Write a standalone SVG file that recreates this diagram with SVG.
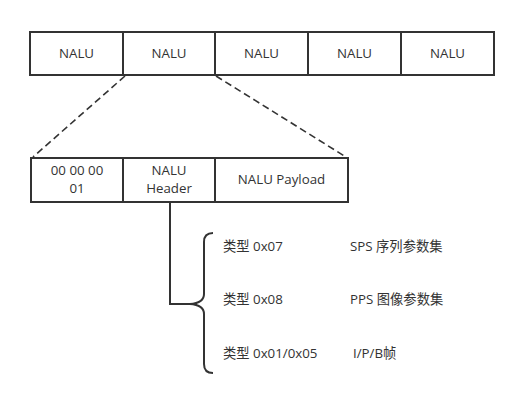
<svg xmlns="http://www.w3.org/2000/svg" width="523" height="404" viewBox="0 0 523 404">
<style>
.box{fill:#fff;stroke:#333;stroke-width:2}
.t{font-family:"Open Sans","Noto Sans CJK SC",sans-serif;font-size:13.3px;fill:#333;text-anchor:middle}
.l{font-family:"Open Sans","Noto Sans CJK SC",sans-serif;font-size:13.3px;fill:#333}
.c{fill:none;stroke:#333;stroke-width:2}
.d{fill:none;stroke:#333;stroke-width:1.6;stroke-dasharray:7,4}
</style>
<rect width="523" height="404" fill="#fff"/>
<g id="top-row">
<g id="nalu1"><rect class="box" x="30" y="32" width="93" height="43"/><text class="t" x="76.5" y="58">NALU</text></g>
<g id="nalu2"><rect class="box" x="123" y="32" width="92" height="43"/><text class="t" x="169" y="58">NALU</text></g>
<g id="nalu3"><rect class="box" x="215" y="32" width="93" height="43"/><text class="t" x="261.5" y="58">NALU</text></g>
<g id="nalu4"><rect class="box" x="308" y="32" width="93" height="43"/><text class="t" x="354.5" y="58">NALU</text></g>
<g id="nalu5"><rect class="box" x="401" y="32" width="93" height="43"/><text class="t" x="447.5" y="58">NALU</text></g>
</g>
<g id="bottom-row">
<g id="startcode"><rect class="box" x="31" y="158" width="92" height="44"/><text class="t" x="77" y="175">00 00 00</text><text class="t" x="77" y="193">01</text></g>
<g id="header"><rect class="box" x="123" y="158" width="92" height="44"/><text class="t" x="169" y="175">NALU</text><text class="t" x="169" y="193">Header</text></g>
<g id="payload"><rect class="box" x="215" y="158" width="133" height="44"/><text class="t" x="281.5" y="184">NALU Payload</text></g>
</g>
<g id="connectors">
<line class="d" x1="125" y1="76" x2="33" y2="157"/>
<line class="d" x1="216" y1="76" x2="346" y2="157"/>
<path class="c" d="M170 202 V304 H190"/>
<path class="c" d="M213 233 Q204 233 204 242 V294 Q204 303 190 304 Q204 305 204 314 V364 Q204 373 213 373"/>
</g>
<g id="labels">
<text class="l" x="223" y="251">类型 0x07</text>
<text class="l" x="350" y="251">SPS 序列参数集</text>
<text class="l" x="223" y="304">类型 0x08</text>
<text class="l" x="350" y="304">PPS 图像参数集</text>
<text class="l" x="223" y="358">类型 0x01/0x05</text>
<text class="l" x="353" y="358">I/P/B帧</text>
</g>
</svg>
